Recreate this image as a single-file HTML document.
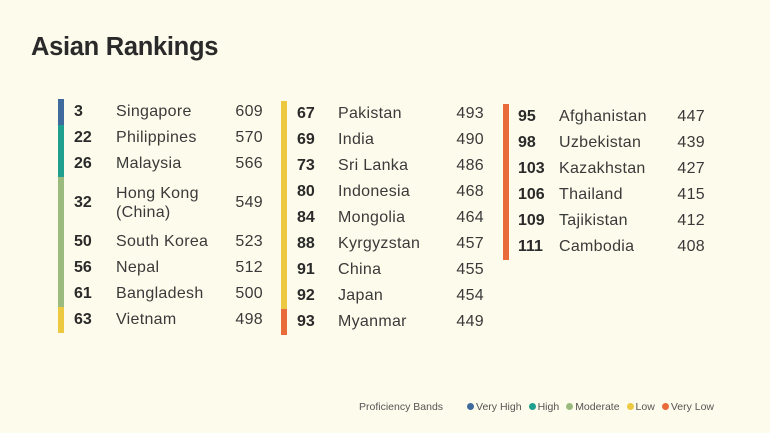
<!DOCTYPE html>
<html><head><meta charset="utf-8"><style>
body{margin:0;width:770px;height:433px;background:#fdfbeb;position:relative;overflow:hidden;font-family:"Liberation Sans",sans-serif;color:#3a3a3a}
.t{position:absolute;white-space:nowrap;line-height:18px;font-size:16px;letter-spacing:0.3px}
.rk{font-weight:bold;color:#2a2a2a;letter-spacing:0}
.sc{text-align:right;width:60px}
.bar{position:absolute;width:6px}
#title{position:absolute;left:31px;top:33px;font-size:25.5px;font-weight:bold;color:#2a2a2a;letter-spacing:-0.3px}
#legend{position:absolute;left:359px;top:401px;font-size:10.5px;color:#555;white-space:nowrap}
#legend span{margin-right:7px}
.dot{display:inline-block;width:7px;height:7px;border-radius:50%;margin-right:2px;vertical-align:0px}
</style></head><body>
<div id="title">Asian Rankings</div>
<div id="legend"><span style="margin-right:24px">Proficiency Bands</span><span><i class="dot" style="background:#3e6a9e"></i>Very High</span><span><i class="dot" style="background:#1fa08f"></i>High</span><span><i class="dot" style="background:#9bbb7e"></i>Moderate</span><span><i class="dot" style="background:#ecc940"></i>Low</span><span><i class="dot" style="background:#ea6b3a"></i>Very Low</span></div>
<script>
const ranks=[3,22,26,32,50,56,61,63,67,69,73,80,84,88,91,92,93,95,98,103,106,109,111];
const countries=["Singapore","Philippines","Malaysia","Hong Kong\n(China)","South Korea","Nepal","Bangladesh","Vietnam","Pakistan","India","Sri Lanka","Indonesia","Mongolia","Kyrgyzstan","China","Japan","Myanmar","Afghanistan","Uzbekistan","Kazakhstan","Thailand","Tajikistan","Cambodia"];
const scores=[609,570,566,549,523,512,500,498,493,490,486,468,464,457,455,454,449,447,439,427,415,412,408];
const bands=["vh","h","h","m","m","m","m","l","l","l","l","l","l","l","l","l","vl","vl","vl","vl","vl","vl","vl"];
const columnSizes=[8,9,6];
const bandColors={vh:"#3e6a9e",h:"#1fa08f",m:"#9bbb7e",l:"#ecc940",vl:"#ea6b3a"};
const cols=[{bx:58,rx:74,nx:116,sr:263,y0:112},{bx:281,rx:297,nx:338,sr:484,y0:114},{bx:503,rx:518,nx:559,sr:705,y0:117}];
const rowH=26;
let idx=0;
cols.forEach((c,ci)=>{
  let top=c.y0-rowH/2;
  for(let k=0;k<columnSizes[ci];k++,idx++){
    const two=countries[idx].includes("\n");
    const h=two?rowH*2:rowH;
    const cy=top+h/2;
    const bar=document.createElement('div');bar.className='bar';
    
    
    bar.style.cssText=`left:${c.bx}px;top:${top}px;height:${h}px;background:${bandColors[bands[idx]]}`;
    document.body.appendChild(bar);
    const r=document.createElement('div');r.className='t rk';r.textContent=ranks[idx];
    
    
    r.style.left=c.rx+'px';r.style.top=(cy-9)+'px';document.body.appendChild(r);
    const n=document.createElement('div');n.className='t';
    
    
    n.innerHTML=countries[idx].replace("\n","<br>");
    n.style.left=c.nx+'px';n.style.top=(cy-(two?19:9))+'px';if(two)n.style.lineHeight='19px';
    document.body.appendChild(n);
    const s=document.createElement('div');s.className='t sc';s.textContent=scores[idx];
    
    
    s.style.left=(c.sr-60)+'px';s.style.top=(cy-9)+'px';document.body.appendChild(s);
    top+=h;
  }
});
</script>
</body></html>
